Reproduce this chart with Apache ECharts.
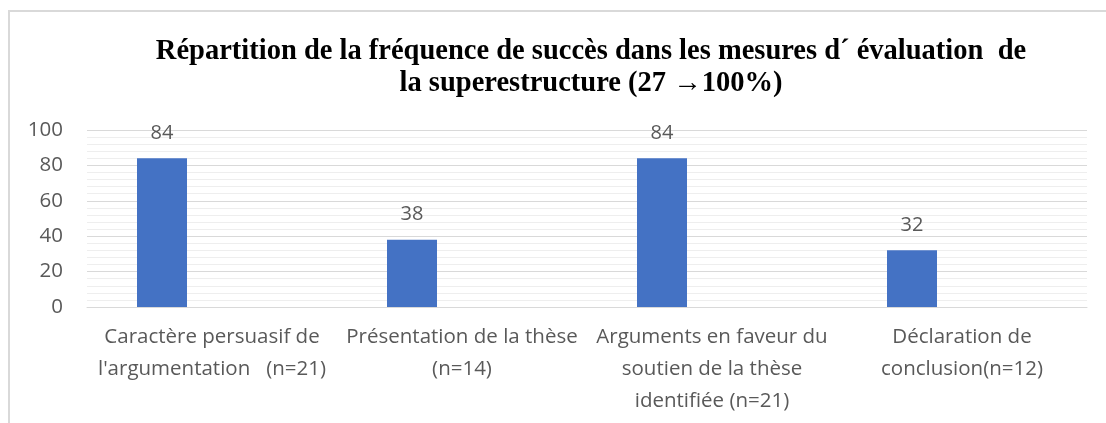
<!DOCTYPE html>
<html><head><meta charset="utf-8">
<script src="https://cdn.jsdelivr.net/npm/echarts@6/dist/echarts.min.js"></script>
<style>html,body{margin:0;padding:0;background:#fff}#c{width:1106px;height:423px}</style>
</head><body><div id="c"></div>
<script>
const titleText = "Répartition de la fréquence de succès dans les mesures d´ évaluation  de\nla superestructure (27 →100%)";
const categories = [
  "Caractère persuasif de\nl'argumentation   (n=21)",
  "Présentation de la thèse\n(n=14)",
  "Arguments en faveur du\nsoutien de la thèse\nidentifiée (n=21)",
  "Déclaration de\nconclusion(n=12)"
];
const values = [84, 38, 84, 32];
const emptySeriesB = [];
const emptySeriesC = [];
const yTicks = [0, 20, 40, 60, 80, 100];

const chart = echarts.init(document.getElementById('c'));
const labelFont = '"Open Sans", "Liberation Sans", sans-serif';
chart.setOption({
  animation: false,
  title: {
    text: titleText,
    left: 586, top: 31, textAlign: 'center',
    textStyle: { fontFamily: '"Liberation Serif", serif', fontWeight: 'bold', fontSize: 28.5, lineHeight: 32, color: '#000' }
  },
  graphic: [{
    type: 'rect', shape: { x: 9, y: 11, width: 1120, height: 440 },
    style: { fill: 'none', stroke: '#d9d9d9', lineWidth: 2 }, silent: true
  }],
  grid: { left: 87, right: 19, top: 130, bottom: 116, containLabel: false },
  xAxis: {
    type: 'category', data: categories,
    axisLine: { lineStyle: { color: '#d9d9d9', width: 1 } },
    axisTick: { show: false },
    axisLabel: { interval: 0, color: '#595959', fontFamily: labelFont, fontSize: 20.5, lineHeight: 32, margin: 14 }
  },
  yAxis: {
    type: 'value', min: yTicks[0], max: yTicks[yTicks.length - 1], interval: 20,
    axisLine: { show: false }, axisTick: { show: false },
    axisLabel: { color: '#595959', fontFamily: labelFont, fontSize: 20.5, margin: 24 },
    splitLine: { lineStyle: { color: '#d9d9d9', width: 1 } },
    minorTick: { show: false, splitNumber: 5 },
    minorSplitLine: { show: true, lineStyle: { color: '#eeeeee', width: 1 } }
  },
  series: [
    { name: 'A', type: 'bar', data: values, barWidth: 50, barGap: '0%',
      itemStyle: { color: '#4472c4' },
      label: { show: true, position: 'top', distance: 15, color: '#595959', fontFamily: labelFont, fontSize: 20 } },
    { name: 'B', type: 'bar', data: emptySeriesB, barWidth: 50, barGap: '0%' },
    { name: 'C', type: 'bar', data: emptySeriesC, barWidth: 50, barGap: '0%' }
  ]
});
</script></body></html>
